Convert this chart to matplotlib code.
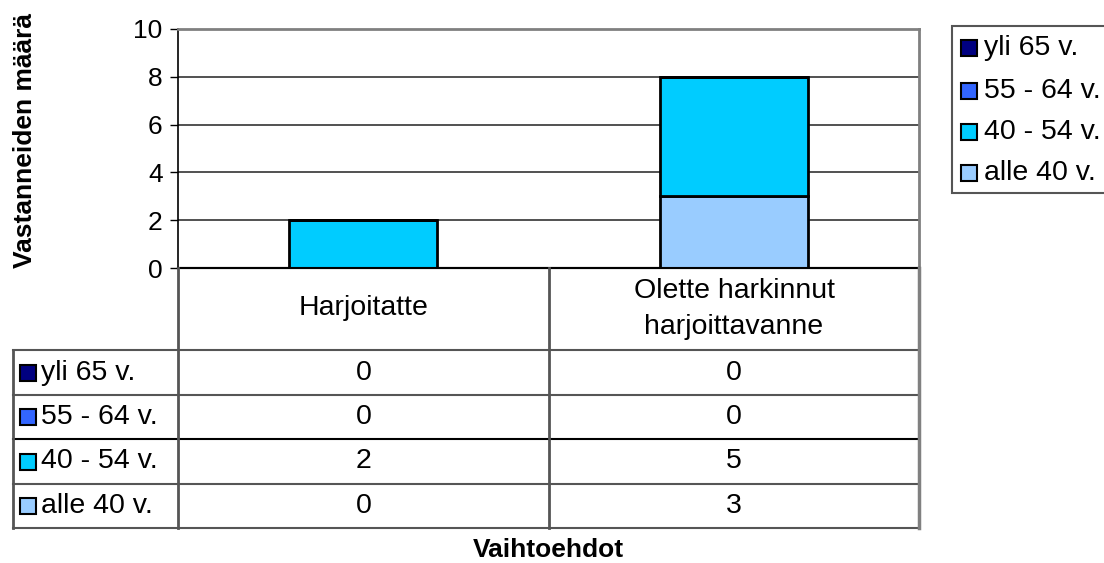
import matplotlib.pyplot as plt
from matplotlib.patches import Rectangle

plt.rcParams['font.family'] = ['Liberation Sans', 'DejaVu Sans']

# data
categories = ["Harjoitatte", "Olette harkinnut\nharjoittavanne"]
series = ["alle 40 v.", "40 - 54 v.", "55 - 64 v.", "yli 65 v."]
values = {
    "alle 40 v.": [0, 3],
    "40 - 54 v.": [2, 5],
    "55 - 64 v.": [0, 0],
    "yli 65 v.": [0, 0],
}
colors = {
    "alle 40 v.": "#99CCFF",
    "40 - 54 v.": "#00CCFF",
    "55 - 64 v.": "#3366FF",
    "yli 65 v.": "#000080",
}
yticks = [0, 2, 4, 6, 8, 10]

W, H = 1104, 563
fig = plt.figure(figsize=(W / 100, H / 100), dpi=100)


def fbox(x0, y0, x1, y1):
    # pixel box (top-left origin) to figure fraction
    return [x0 / W, 1 - y1 / H, (x1 - x0) / W, (y1 - y0) / H]


px_left, px_right, px_top, px_bottom = 178, 919, 29, 268
fs_tick = 19
fs_txt = 20.5
fs_head = 20.5

# main plot
ax = fig.add_axes(fbox(px_left, px_top, px_right, px_bottom))
bottom = [0, 0]
for s in series:
    vals = values[s]
    ax.bar(range(len(categories)), vals, width=0.4, bottom=bottom,
           color=colors[s], edgecolor="black", linewidth=2, zorder=3)
    bottom = [b + v for b, v in zip(bottom, vals)]
ax.set_xlim(-0.5, 1.5)
ax.set_ylim(0, 10)
ax.set_yticks(yticks)
ax.set_yticklabels([str(t) for t in yticks], fontsize=fs_tick)
ax.set_xticks([])
ax.yaxis.grid(True, color="#333333", linewidth=1.2, zorder=0)
ax.tick_params(axis="y", direction="out", length=6, width=1, pad=5)
for side in ["top", "right"]:
    ax.spines[side].set_color("#808080")
    ax.spines[side].set_linewidth(2)
ax.spines["left"].set_color("black")
ax.spines["left"].set_linewidth(1.2)
ax.spines["bottom"].set_color("black")
ax.spines["bottom"].set_linewidth(1.5)

fig.text(25 / W, 1 - 141 / H, "Vastanneiden määrä", rotation=90,
         ha="center", va="center", fontsize=19, fontweight="bold")

# data table
tx0, tx1, ty0, ty1 = 13, 919, 268, 528
tab = fig.add_axes(fbox(tx0, ty0, tx1, ty1))
tab.set_xlim(tx0, tx1)
tab.set_ylim(ty1, ty0)
tab.axis("off")
row_y = [268, 350, 395, 439, 484, 528]
col_x = [13, 178, 549, 919]
lc = "#555555"
# horizontal lines
for i, y in enumerate(row_y):
    x_start = col_x[0] if i >= 1 else col_x[1]
    tab.plot([x_start, col_x[-1]], [y, y], color=lc if i not in (0, 3) else "black",
             lw=1.5, clip_on=False)
# vertical lines
tab.plot([col_x[0], col_x[0]], [row_y[1], row_y[-1]], color=lc, lw=2, clip_on=False)
tab.plot([col_x[1], col_x[1]], [row_y[0], row_y[-1]], color=lc, lw=2, clip_on=False)
tab.plot([col_x[2], col_x[2]], [row_y[0], row_y[-1]], color=lc, lw=2, clip_on=False)
tab.plot([col_x[3], col_x[3]], [row_y[0], row_y[-1]], color="#808080", lw=2.5, clip_on=False)

head_y = [308, 309]
for j, c in enumerate(categories):
    cx = (col_x[j + 1] + col_x[j + 2]) / 2
    tab.text(cx, head_y[j], c, ha="center", va="center",
             fontsize=fs_head, linespacing=1.45)

table_order = ["yli 65 v.", "55 - 64 v.", "40 - 54 v.", "alle 40 v."]
for i, s in enumerate(table_order):
    cy = (row_y[i + 1] + row_y[i + 2]) / 2
    tab.add_patch(Rectangle((20, cy - 8), 16, 16, facecolor=colors[s],
                            edgecolor="black", lw=1.5, clip_on=False))
    tab.text(41, cy, s, ha="left", va="center", fontsize=fs_txt)
    for j in range(len(categories)):
        cx = (col_x[j + 1] + col_x[j + 2]) / 2
        tab.text(cx, cy, str(values[s][j]), ha="center", va="center", fontsize=fs_txt)

fig.text(548 / W, 1 - 550 / H, "Vaihtoehdot", ha="center", va="center",
         fontsize=19, fontweight="bold")

# legend
lx0, lx1, ly0, ly1 = 952, 1120, 26, 193
leg = fig.add_axes(fbox(0, 0, W, H))
leg.set_xlim(0, W)
leg.set_ylim(H, 0)
leg.axis("off")
leg.add_patch(Rectangle((lx0, ly0), lx1 - lx0, ly1 - ly0, facecolor="white",
                        edgecolor="#555555", lw=1.5))
leg_y = [48, 91, 132, 173]
for s, y in zip(table_order, leg_y):
    leg.add_patch(Rectangle((961, y - 8), 16, 16, facecolor=colors[s],
                            edgecolor="black", lw=1.5))
    leg.text(984, y, s, ha="left", va="center", fontsize=fs_txt)

fig.savefig("out.png", dpi=100)
